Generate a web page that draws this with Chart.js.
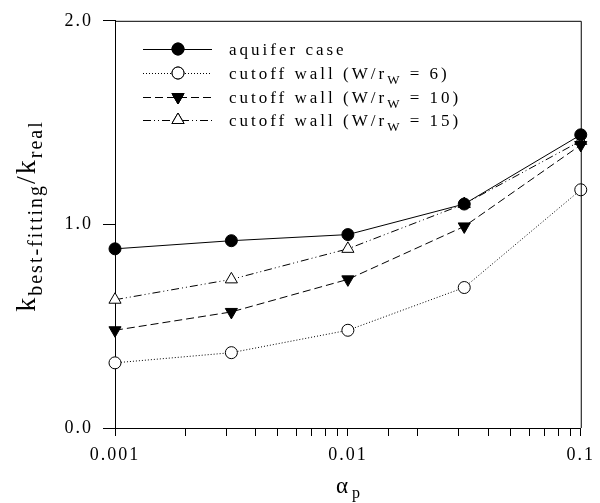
<!DOCTYPE html>
<html>
<head>
<meta charset="utf-8">
<script src="https://cdn.jsdelivr.net/npm/chart.js@4.4.0/dist/chart.umd.min.js"></script>
<style>
  html, body { margin: 0; padding: 0; background: #fff; }
  #wrap { width: 600px; height: 503px; }
</style>
</head>
<body>
<div id="wrap"><canvas id="chart"></canvas></div>
<script>
// alpha_p values (log axis)
var alphaP = [0.001, 0.00316, 0.01, 0.0316, 0.1];
// k best-fitting / k real for each case
var aquiferCase = [0.88, 0.92, 0.95, 1.10, 1.44];
var wall6 = [0.32, 0.37, 0.48, 0.69, 1.17];
var wall10 = [0.48, 0.57, 0.73, 0.99, 1.39];
var wall15 = [0.63, 0.73, 0.88, 1.10, 1.41];
var xTickLabels = ['0.001', '0.01', '0.1'];
var yTickLabels = ['0.0', '1.0', '2.0'];
var legendNames = ['aquifer case', 'cutoff wall (W/r', 'cutoff wall (W/r', 'cutoff wall (W/r'];
var legendTails = ['', ' = 6)', ' = 10)', ' = 15)'];

var SERIF = '"Liberation Serif", "Times New Roman", serif';

function pts(ys) {
  return alphaP.map(function (x, i) { return { x: x, y: ys[i] }; });
}

function makeSet(label, ys, dash, style, fill, rot, r) {
  return {
    label: label,
    data: pts(ys),
    borderColor: '#000',
    borderWidth: 1,
    borderDash: dash,
    pointStyle: style,
    pointRotation: rot,
    pointRadius: r,
    pointBackgroundColor: fill,
    pointBorderColor: '#000',
    pointBorderWidth: 1,
    tension: 0,
    clip: false
  };
}

var sets = [
  makeSet('aquifer case', aquiferCase, [], 'circle', '#000', 0, 6),
  makeSet('cutoff wall (W/rw = 6)', wall6, [1, 2], 'circle', '#fff', 0, 6),
  makeSet('cutoff wall (W/rw = 10)', wall10, [8, 4], 'triangle', '#000', 180, 7),
  makeSet('cutoff wall (W/rw = 15)', wall15, [8, 3, 1, 3, 1, 3], 'triangle', '#fff', 0, 7)
];

//spacing like the old plotting program
var spacing = {
  id: 'spacing',
  beforeDraw: function (chart) { chart.ctx.letterSpacing = '2px'; }
};

// frame, legend and axis titles drawn by hand
var extras = {
  id: 'extras',
  afterDraw: function (chart) {
    var ctx = chart.ctx, a = chart.chartArea;
    ctx.save();
    ctx.strokeStyle = '#000';
    ctx.lineWidth = 1;
    ctx.setLineDash([]);
    ctx.beginPath();
    ctx.moveTo(a.left, a.top + 0.5);
    ctx.lineTo(a.right + 0.5, a.top + 0.5);
    ctx.lineTo(a.right + 0.5, a.bottom);
    ctx.stroke();

    // legend
    ctx.letterSpacing = '3px';
    var rows = [49, 73, 97, 120];
    for (var i = 0; i < sets.length; i++) {
      var ds = sets[i], y = rows[i];
      ctx.setLineDash(ds.borderDash);
      ctx.beginPath();
      ctx.moveTo(143, y + 0.5);
      ctx.lineTo(212, y + 0.5);
      ctx.stroke();
      ctx.setLineDash([]);
      Chart.helpers.drawPoint(ctx, {
        pointStyle: ds.pointStyle, radius: ds.pointRadius, rotation: ds.pointRotation, borderWidth: 1
      }, 178, y);
      ctx.fillStyle = ds.pointBackgroundColor;
      ctx.fill();
      ctx.stroke();
      ctx.fillStyle = '#000';
      ctx.textBaseline = 'alphabetic';
      ctx.textAlign = 'left';
      ctx.font = '17px ' + SERIF;
      var tx = 229, by = y + 6;
      ctx.fillText(legendNames[i], tx, by);
      if (legendTails[i]) {
        tx += ctx.measureText(legendNames[i]).width;
        ctx.font = '13px ' + SERIF;
        ctx.fillText('W', tx, by + 5);
        tx += ctx.measureText('W').width;
        ctx.font = '17px ' + SERIF;
        ctx.fillText(legendTails[i], tx, by);
      }
    }

    // x title
    ctx.letterSpacing = '2px';
    ctx.font = '23px ' + SERIF;
    ctx.fillText('\u03b1', 336, 493);
    ctx.font = '16px ' + SERIF;
    ctx.fillText('p', 352, 498);

    // y title, rotated
    ctx.translate(35, 216);
    ctx.rotate(-Math.PI / 2);
    var parts = [['k', 28, 0], ['best-fitting', 20, 7], ['/k', 28, 0], ['real', 20, 7]];
    var total = 0;
    parts.forEach(function (p) { ctx.font = p[1] + 'px ' + SERIF; total += ctx.measureText(p[0]).width; });
    var px = -total / 2;
    parts.forEach(function (p) {
      ctx.font = p[1] + 'px ' + SERIF;
      ctx.fillText(p[0], px, p[2]);
      px += ctx.measureText(p[0]).width;
    });
    ctx.restore();
  }
};

function isMajor(v) {
  var l = Math.log10(v);
  return Math.abs(l - Math.round(l)) < 1e-6;
}

new Chart(document.getElementById('chart'), {
  type: 'line',
  data: { datasets: sets },
  options: {
    responsive: true,
    maintainAspectRatio: false,
    animation: false,
    devicePixelRatio: 1,
    layout: { padding: { left: 0, top: 20, right: 13, bottom: 0 } },
    plugins: { legend: { display: false }, tooltip: { enabled: false } },
    scales: {
      x: {
        type: 'logarithmic',
        min: 0.001,
        max: 0.1,
        grid: { drawOnChartArea: false, drawTicks: true, tickLength: 8, color: '#000' },
        border: { display: true, color: '#000', width: 1 },
        ticks: {
          autoSkip: false,
          maxRotation: 0,
          padding: 8,
          color: '#000',
          font: { family: SERIF, size: 18 },
          callback: function (v) {
            if (!isMajor(v)) return '';
            return xTickLabels[Math.round(Math.log10(v)) + 3];
          }
        },
        afterFit: function (s) { s.height = 75; }
      },
      y: {
        min: 0,
        max: 2,
        grid: { drawOnChartArea: false, drawTicks: true, tickLength: 12, color: '#000' },
        border: { display: true, color: '#000', width: 1 },
        ticks: {
          stepSize: 1,
          padding: 10,
          color: '#000',
          font: { family: SERIF, size: 18 },
          callback: function (v) { return yTickLabels[v]; }
        },
        afterFit: function (s) { s.width = 115; }
      }
    }
  },
  plugins: [spacing, extras]
});
</script>
</body>
</html>
